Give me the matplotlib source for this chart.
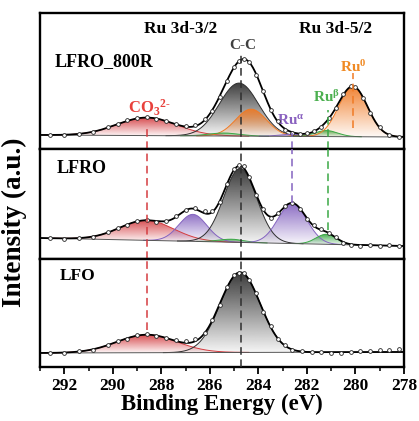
import numpy as np
import matplotlib
matplotlib.use('Agg')
from matplotlib import pyplot as plt, rcParams, colors as mcolors
from matplotlib.ticker import MultipleLocator

rcParams['font.family'] = ['Liberation Serif', 'DejaVu Serif']
rcParams['font.weight'] = 'bold'
rcParams['mathtext.fontset'] = 'custom'
rcParams['mathtext.rm'] = 'Liberation Serif:bold'
rcParams['mathtext.it'] = 'Liberation Serif:bold'
rcParams['mathtext.bf'] = 'Liberation Serif:bold'

# Measured points (binding energy, intensity a.u.) for each sample
energy_800R = [292.6, 292.0, 291.4, 290.8, 290.2, 289.8, 289.4, 289.0, 288.6, 288.2, 287.8, 287.4, 287.0,
               286.6, 286.2, 285.9, 285.6, 285.3, 285.0, 284.8, 284.6, 284.4, 284.1, 283.8, 283.5, 283.2,
               282.9, 282.6, 282.3, 282.0, 281.7, 281.4, 281.1, 280.8, 280.5, 280.2, 280.0, 279.7, 279.4,
               279.0, 278.6, 278.2]
counts_800R = [13.3, 13.0, 14.5, 16.0, 20.8, 24.5, 27.6, 30.2, 31.0, 29.0, 27.3, 24.2, 22.0,
               22.6, 29.0, 37.5, 51.0, 67.5, 81.5, 87.0, 89.0, 86.0, 73.5, 57.0, 38.0, 26.8,
               18.5, 15.0, 14.0, 14.8, 17.2, 21.0, 30.0, 40.0, 54.0, 62.0, 61.5, 50.0, 35.0,
               21.0, 12.8, 11.5]

energy_LFRO = [292.6, 292.0, 291.4, 290.8, 290.2, 289.8, 289.4, 289.0, 288.6, 288.2, 287.8, 287.4, 287.0,
               286.6, 286.2, 285.9, 285.6, 285.3, 285.0, 284.8, 284.6, 284.4, 284.1, 283.8, 283.5, 283.2,
               282.9, 282.6, 282.3, 282.0, 281.7, 281.4, 281.1, 280.8, 280.5, 280.2, 279.8, 279.4, 279.0,
               278.6, 278.2]
counts_LFRO = [20.2, 19.3, 20.3, 21.2, 26.0, 29.9, 33.0, 37.2, 38.5, 36.4, 37.4, 42.0, 48.5,
               50.5, 47.0, 47.0, 56.0, 74.5, 89.0, 93.0, 92.0, 81.0, 63.0, 49.0, 40.5, 45.0,
               52.5, 55.5, 49.0, 39.0, 33.0, 29.0, 25.5, 20.8, 15.2, 13.0, 12.4, 13.0, 12.2,
               12.8, 12.3]

energy_LFO = [292.6, 292.0, 291.4, 290.8, 290.2, 289.8, 289.4, 289.0, 288.6, 288.2, 287.8, 287.4, 287.0,
              286.6, 286.2, 285.9, 285.6, 285.3, 285.0, 284.8, 284.6, 284.4, 284.1, 283.8, 283.5, 283.2,
              282.9, 282.6, 282.2, 281.8, 281.4, 281.0, 280.6, 280.2, 279.8, 279.4, 279.0, 278.6, 278.2]
counts_LFO = [15.5, 15.0, 16.9, 18.4, 23.4, 26.9, 29.4, 33.0, 33.6, 32.0, 30.5, 28.0, 27.5,
              29.0, 35.0, 48.2, 63.0, 80.8, 92.6, 95.0, 95.2, 88.2, 75.0, 56.3, 41.8, 29.0,
              22.8, 18.0, 16.8, 15.6, 16.0, 15.5, 15.4, 16.3, 16.6, 17.2, 17.8, 18.5, 19.0]

# Fitted components: centre (eV), height, FWHM (eV), colour key
peaks_800R = dict(center=[288.6, 284.8, 284.3, 285.4, 282.6, 281.2, 280.1],
                  height=[18, 53, 27, 3, 2, 6, 50],
                  fwhm=[2.9, 1.9, 1.5, 1.5, 1.2, 1.1, 1.4],
                  kind=['co3', 'cc', 'ru0', 'rub', 'rua', 'rub', 'ru0'])
peaks_LFRO = dict(center=[288.6, 286.7, 285.1, 284.75, 282.6, 281.2],
                  height=[20, 27, 3, 74, 40, 10],
                  fwhm=[2.6, 1.35, 1.2, 1.6, 1.4, 1.0],
                  kind=['co3', 'rua', 'rub', 'cc', 'rua', 'rub'])
peaks_LFO = dict(center=[288.6, 284.75],
                 height=[18, 80],
                 fwhm=[2.9, 1.95],
                 kind=['co3', 'cc'])

# linear background (value at 293 eV, value at 278 eV)
bkg_800R = (13, 11)
bkg_LFRO = (20, 12)
bkg_LFO = (15, 16)

colors_dict = {'co3': '#d43c40', 'cc': '#2e2e2e', 'ru0': '#f07a24', 'rub': '#3aa845', 'rua': '#8463c0'}
text_colors = {'co3': '#e8413c', 'cc': '#404040', 'ru0': '#f08a24', 'rub': '#4cb050', 'rua': '#8a62c0'}

samples = [('LFRO_800R', energy_800R, counts_800R, peaks_800R, bkg_800R),
           ('LFRO', energy_LFRO, counts_LFRO, peaks_LFRO, bkg_LFRO),
           ('LFO', energy_LFO, counts_LFO, peaks_LFO, bkg_LFO)]


def gauss(x, c, h, w):
    return h * np.exp(-4 * np.log(2) * ((x - c) / w) ** 2)


def gradient_fill(ax, x, y0, y1, color, z):
    poly = ax.fill_between(x, y0, y1, facecolor='none', edgecolor='none')
    path = poly.get_paths()[0]
    rgb = np.array(mcolors.to_rgb(color))
    t = np.linspace(0, 1, 200)
    img = np.ones((200, 1, 4))
    img[:, 0, :3] = rgb
    img[:, 0, 3] = 0.04 + 0.9 * t
    im = ax.imshow(img, extent=[x.min(), x.max(), y0.min(), y1.max()], origin='lower',
                   aspect='auto', zorder=z, interpolation='bilinear')
    im.set_clip_path(path, transform=ax.transData)


fig = plt.figure(figsize=(4.19, 4.21), dpi=100)
left, width = 40 / 419, 364 / 419
panel_px = [(13, 149), (149, 259), (259, 367)]
ylims = [(-1, 135), (-1, 109), (1, 109)]
x_model = np.linspace(278, 293, 700)

axes = []
for i, (name, energy, counts, peaks, bkg) in enumerate(samples):
    top_px, bot_px = panel_px[i]
    ax = fig.add_axes([left, 1 - bot_px / 421, width, (bot_px - top_px) / 421])
    axes.append(ax)

    bl = bkg[1] + (bkg[0] - bkg[1]) * (x_model - 278) / 15
    envelope = bl.copy()
    for j, (c, h, w, k) in enumerate(zip(peaks['center'], peaks['height'], peaks['fwhm'], peaks['kind'])):
        comp = gauss(x_model, c, h, w)
        envelope += comp
        mask = comp > 0.05
        gradient_fill(ax, x_model[mask], bl[mask], bl[mask] + comp[mask], colors_dict[k], 1 + j * 0.01)
        ax.plot(x_model[mask], bl[mask] + comp[mask], color=colors_dict[k], lw=0.7, zorder=2)

    ax.plot(x_model, bl, color='#555555', lw=0.7, zorder=2)
    ax.plot(x_model, envelope, color='black', lw=1.3, zorder=3)
    ax.plot(energy, counts, ls='none', marker='o', ms=2.7, mfc='white', mec='#222222', mew=0.6, zorder=4)

    ax.text([292.4, 292.3, 292.2][i], [86, 90, 92][i], name, fontsize=[13, 13, 12.5][i], fontweight='bold',
            ha='left', va='center')

    ax.set_xlim(293, 278)
    ax.set_ylim(*ylims[i])
    ax.set_yticks([])
    for s in ax.spines.values():
        s.set_linewidth(1.7)
    if i < 2:
        ax.set_xticks([])

# dashed guide lines (energy, colour key, [(panel, ymin, ymax)])
guides = [(288.6, 'co3', [(0, -1, 20), (1, -1, 109), (2, 38, 109)]),
          (284.7, 'cc', [(0, -1, 95), (1, -1, 109), (2, 1, 109)]),
          (282.6, 'rua', [(0, -1, 15), (1, 55, 109)]),
          (281.15, 'rub', [(0, -1, 38), (1, 28, 109)]),
          (280.1, 'ru0', [(0, 20, 75)])]
for e, k, spans in guides:
    for p, y0, y1 in spans:
        axes[p].plot([e, e], [y0, y1], color=colors_dict[k], lw=1.1, ls=(0, (5, 3)), zorder=5)

ax0 = axes[0]
ax0.text(287.2, 119, 'Ru 3d-3/2', fontsize=12.5, fontweight='bold', ha='center', va='center')
ax0.text(280.8, 119, 'Ru 3d-5/2', fontsize=12.5, fontweight='bold', ha='center', va='center')
ax0.text(284.63, 103, 'C-C', fontsize=11, color=text_colors['cc'], ha='center', va='center')
ax0.text(288.5, 40, r'CO$_3$$^{2\text{-}}$', fontsize=12, color=text_colors['co3'], ha='center', va='center')
ax0.text(282.66, 28, r'Ru$^{\alpha}$', fontsize=11, color=text_colors['rua'], ha='center', va='center')
ax0.text(281.2, 51, r'Ru$^{\beta}$', fontsize=11, color=text_colors['rub'], ha='center', va='center')
ax0.text(280.1, 81, r'Ru$^{0}$', fontsize=11, color=text_colors['ru0'], ha='center', va='center')

ax2 = axes[2]
ax2.xaxis.set_major_locator(MultipleLocator(2))
ax2.xaxis.set_minor_locator(MultipleLocator(1))
ax2.tick_params(axis='x', which='major', direction='out', length=5, width=1.3, labelsize=12.5, pad=3)
ax2.tick_params(axis='x', which='minor', direction='out', length=3, width=1.1)
for lab in ax2.get_xticklabels():
    lab.set_fontweight('bold')
ax2.set_xlabel('Binding Energy (eV)', fontsize=16.5, fontweight='bold', labelpad=0)

fig.text(14 / 419, 1 - 222 / 421, 'Intensity (a.u.)', rotation=90, fontsize=19.5, fontweight='bold',
         ha='center', va='center')

fig.savefig('out.png', dpi=100)
